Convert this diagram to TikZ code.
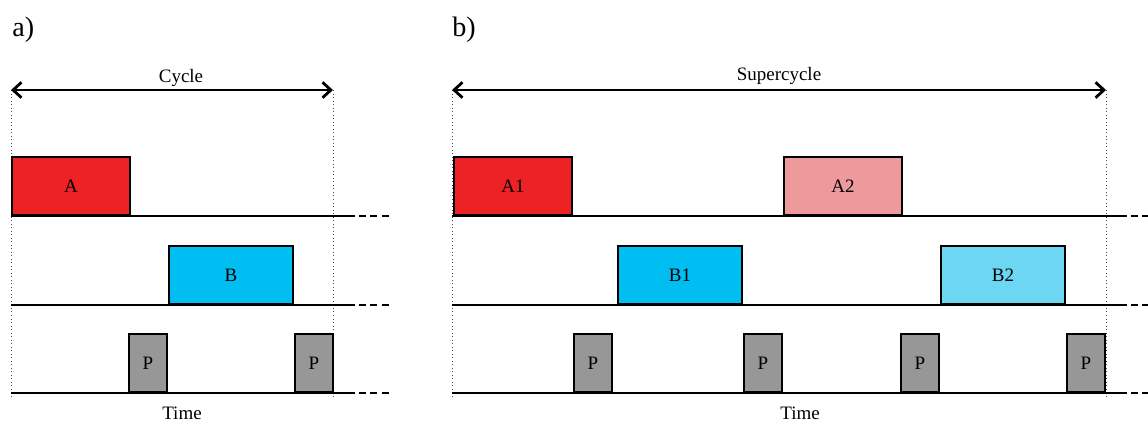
\documentclass[tikz,border=0pt]{standalone}
\usepackage{fontspec}
\setmainfont{Liberation Serif}
\usepackage{tikz}
\usetikzlibrary{arrows.meta}
\definecolor{taskRed}{HTML}{ED2224}
\definecolor{taskPink}{HTML}{EE999B}
\definecolor{taskCyan}{HTML}{00BEF2}
\definecolor{taskLightCyan}{HTML}{6DD6F3}
\definecolor{taskGray}{HTML}{979797}
\tikzstyle{tSlot} = [rectangle, draw=black, line width=1.3pt, inner sep=0pt, minimum height=1.45cm, anchor=south west, font=\fontsize{13.5}{16}\selectfont]
\tikzstyle{tLong} = [tSlot, minimum width=2.95cm]
\tikzstyle{tWide} = [tSlot, minimum width=3.1cm]
\tikzstyle{tPoll} = [tSlot, minimum width=0.95cm, fill=taskGray]
\tikzstyle{tAxis} = [line width=1.3pt]
\tikzstyle{tMore} = [line width=1.3pt, dash pattern=on 5pt off 3pt]
\tikzstyle{tSpan} = [line width=2pt, {Straight Barb[length=6pt,width=11pt]}-{Straight Barb[length=6pt,width=11pt]}]
\tikzstyle{tGuide} = [dotted, black!70, line width=0.5pt]
\tikzstyle{tLabel} = [anchor=base, inner sep=0pt, font=\fontsize{13.5}{16}\selectfont]
\tikzstyle{tPanel} = [anchor=base west, inner sep=0pt, font=\fontsize{20}{24}\selectfont]

\begin{document}
\begin{tikzpicture}[x=0.025cm, y=-0.025cm]
    \useasboundingbox (0,0) rectangle (1148,423);

    % panel a
    \node (panelA) [tPanel] at (12,36) {a)};
    \coordinate (cycStart) at (11,90);
    \coordinate (cycEnd) at (333,90);
    \coordinate (cycLow) at (11,396);
    \coordinate (cycLowEnd) at (333,396);
    \draw [tGuide] (cycStart) -- (cycLow);
    \draw [tGuide] (cycEnd) -- (cycLowEnd);
    \draw [tSpan] (cycStart) -- (cycEnd);
    \node (cycLabel) [tLabel] at (181,82) {Cycle};

    \coordinate (rowA1) at (11,216);
    \coordinate (rowA1End) at (355,216);
    \coordinate (rowA1More) at (389,216);
    \coordinate (rowA2) at (11,305);
    \coordinate (rowA2End) at (355,305);
    \coordinate (rowA2More) at (389,305);
    \coordinate (rowA3) at (11,393);
    \coordinate (rowA3End) at (355,393);
    \coordinate (rowA3More) at (389,393);
    \draw [tAxis] (rowA1) -- (rowA1End);
    \draw [tMore] (rowA1End) ++(4,0) -- (rowA1More);
    \draw [tAxis] (rowA2) -- (rowA2End);
    \draw [tMore] (rowA2End) ++(4,0) -- (rowA2More);
    \draw [tAxis] (rowA3) -- (rowA3End);
    \draw [tMore] (rowA3End) ++(4,0) -- (rowA3More);

    \node (taskA) [tLong, fill=taskRed] at (11,216) {A};
    \node (taskB) [tWide, fill=taskCyan] at (168,305) {B};
    \node (pollA1) [tPoll] at (128,393) {P};
    \node (pollA2) [tPoll] at (294,393) {P};
    \node (timeA) [tLabel] at (182,419) {Time};

    % panel b
    \node (panelB) [tPanel] at (452,36) {b)};
    \coordinate (supStart) at (452,90);
    \coordinate (supEnd) at (1106,90);
    \coordinate (supLow) at (452,396);
    \coordinate (supLowEnd) at (1106,396);
    \draw [tGuide] (supStart) -- (supLow);
    \draw [tGuide] (supEnd) -- (supLowEnd);
    \draw [tSpan] (supStart) -- (supEnd);
    \node (supLabel) [tLabel] at (779,80) {Supercycle};

    \coordinate (rowB1) at (452,216);
    \coordinate (rowB1End) at (1127,216);
    \coordinate (rowB1More) at (1160,216);
    \coordinate (rowB2) at (452,305);
    \coordinate (rowB2End) at (1127,305);
    \coordinate (rowB2More) at (1160,305);
    \coordinate (rowB3) at (452,393);
    \coordinate (rowB3End) at (1127,393);
    \coordinate (rowB3More) at (1160,393);
    \draw [tAxis] (rowB1) -- (rowB1End);
    \draw [tMore] (rowB1End) ++(4,0) -- (rowB1More);
    \draw [tAxis] (rowB2) -- (rowB2End);
    \draw [tMore] (rowB2End) ++(4,0) -- (rowB2More);
    \draw [tAxis] (rowB3) -- (rowB3End);
    \draw [tMore] (rowB3End) ++(4,0) -- (rowB3More);

    \node (taskA1) [tLong, fill=taskRed] at (453,216) {A1};
    \node (taskA2) [tLong, fill=taskPink] at (783,216) {A2};
    \node (taskB1) [tWide, fill=taskCyan] at (617,305) {B1};
    \node (taskB2) [tWide, fill=taskLightCyan] at (940,305) {B2};
    \node (pollB1) [tPoll] at (573,393) {P};
    \node (pollB2) [tPoll] at (743,393) {P};
    \node (pollB3) [tPoll] at (900,393) {P};
    \node (pollB4) [tPoll] at (1066,393) {P};
    \node (timeB) [tLabel] at (800,419) {Time};
\end{tikzpicture}
\end{document}
